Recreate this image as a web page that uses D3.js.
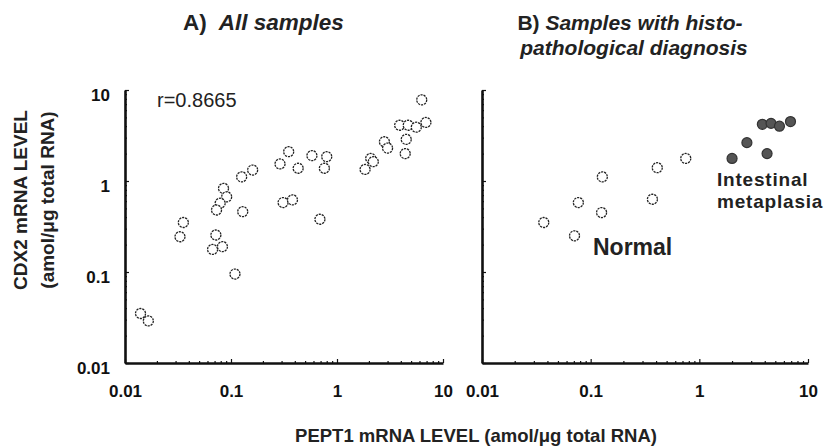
<!DOCTYPE html>
<html lang="en">
<head>
    <meta charset="UTF-8">
    <title>CDX2 vs PEPT1 mRNA</title>
    <style>
        body { margin: 0; background: #fff; }
        svg { display: block; font-family: "Liberation Sans", Arial, sans-serif; }
        .tick text { font-weight: bold; font-size: 17px; fill: #111; }
        .domain { stroke: #111; stroke-width: 2.6; }
        .tick line { stroke: #111; stroke-width: 1.2; }
        .open { fill: #fff; stroke: #222; stroke-width: 1.3; stroke-dasharray: 2.2,0.9; }
        .filled { fill: #555; stroke: #333; stroke-width: 1.2; }
        .lbl { font-weight: bold; fill: #222; }
    </style>
</head>
<body>
    <svg id="chart" width="826" height="448"></svg>

    <script src="https://d3js.org/d3.v7.min.js"></script>
    <script>
        // panel A: all samples (PEPT1, CDX2 in amol/ug total RNA)
        const allPept = [6.3, 3.9, 4.7, 5.6, 6.9, 4.5, 4.4, 2.8, 3.0, 2.08, 2.2, 1.84,
                         0.35, 0.29, 0.43, 0.58, 0.80, 0.76, 0.16, 0.126, 0.085, 0.091, 0.079, 0.073,
                         0.129, 0.31, 0.38, 0.69, 0.0355, 0.033, 0.072, 0.067, 0.083, 0.109, 0.014, 0.0166];
        const allCdx  = [7.8, 4.1, 4.1, 3.9, 4.4, 2.87, 2.0, 2.7, 2.3, 1.77, 1.63, 1.34,
                         2.1, 1.54, 1.38, 1.9, 1.85, 1.38, 1.32, 1.11, 0.83, 0.67, 0.57, 0.48,
                         0.46, 0.58, 0.62, 0.38, 0.35, 0.244, 0.255, 0.177, 0.19, 0.095, 0.035, 0.029];

        // panel B: samples with histopathological diagnosis
        const normalPept = [0.75, 0.41, 0.128, 0.37, 0.077, 0.126, 0.037, 0.071];
        const normalCdx  = [1.77, 1.4, 1.11, 0.63, 0.58, 0.45, 0.35, 0.25];
        const imPept = [2.0, 2.74, 4.2, 3.8, 4.57, 5.46, 6.9];
        const imCdx  = [1.77, 2.64, 2.0, 4.2, 4.3, 4.0, 4.5];

        const tickVals = [0.01, 0.1, 1, 10];
        const tickLabels = ["0.01", "0.1", "1", "10"];

        const svg = d3.select("#chart");

        // minor ticks 2..9 per decade
        const minor = [];
        [0.01, 0.1, 1].forEach(d => { for (let k = 2; k <= 9; k++) minor.push(d * k); });

        const y = d3.scaleLog().domain([0.01, 10]).range([363, 90]);
        const xA = d3.scaleLog().domain([0.01, 10]).range([125, 443]);
        const xB = d3.scaleLog().domain([0.01, 10]).range([482, 808]);

        function drawAxes(x, showYLabels) {
            const fmt = d => tickLabels[tickVals.indexOf(d)];
            // minor ticks
            svg.append("g").attr("transform", "translate(0,363)")
                .call(d3.axisBottom(x).tickValues(minor).tickSize(-2).tickFormat(""))
                .call(g => g.select(".domain").remove());
            svg.append("g").attr("transform", `translate(${x.range()[0]},0)`)
                .call(d3.axisLeft(y).tickValues(minor).tickSize(-2).tickFormat(""))
                .call(g => g.select(".domain").remove());
            // major ticks
            svg.append("g").attr("transform", "translate(0,363)")
                .call(d3.axisBottom(x).tickValues(tickVals).tickSize(-4).tickSizeOuter(0).tickPadding(22).tickFormat(fmt));
            svg.append("g").attr("transform", `translate(${x.range()[0]},0)`)
                .call(d3.axisLeft(y).tickValues(tickVals).tickSize(-4).tickSizeOuter(0).tickPadding(15)
                    .tickFormat(showYLabels ? fmt : ""))
                .call(g => g.selectAll(".tick text").attr("dy", "0.62em"));
        }

        drawAxes(xA, true);
        drawAxes(xB, false);

        // points, panel A
        svg.append("g").selectAll("circle")
            .data(allPept.map((p, i) => [p, allCdx[i]]))
            .join("circle")
            .attr("class", "open")
            .attr("cx", d => xA(d[0]))
            .attr("cy", d => y(d[1]))
            .attr("r", 5);

        // points, panel B
        svg.append("g").selectAll("circle")
            .data(normalPept.map((p, i) => [p, normalCdx[i]]))
            .join("circle")
            .attr("class", "open")
            .attr("cx", d => xB(d[0]))
            .attr("cy", d => y(d[1]))
            .attr("r", 5);
        svg.append("g").selectAll("circle")
            .data(imPept.map((p, i) => [p, imCdx[i]]))
            .join("circle")
            .attr("class", "filled")
            .attr("cx", d => xB(d[0]))
            .attr("cy", d => y(d[1]))
            .attr("r", 5);

        // panel titles
        const tA = svg.append("text").attr("class", "lbl").attr("font-size", 22.5).attr("x", 183).attr("y", 30);
        tA.append("tspan").text("A)");
        tA.append("tspan").attr("dx", 12).attr("font-style", "italic").text("All samples");

        const tB = svg.append("text").attr("class", "lbl").attr("font-size", 21)
            .attr("text-anchor", "middle").attr("x", 630).attr("y", 30);
        tB.append("tspan").text("B) ");
        tB.append("tspan").attr("font-style", "italic").text("Samples with histo-");
        svg.append("text").attr("class", "lbl").attr("font-size", 21).attr("text-anchor", "middle")
            .attr("x", 634).attr("y", 55).attr("font-style", "italic").text("pathological diagnosis");

        // annotations
        svg.append("text").attr("x", 157).attr("y", 107).attr("font-size", 20).attr("fill", "#222").text("r=0.8665");
        svg.append("text").attr("class", "lbl").attr("font-size", 19).attr("letter-spacing", 0.8)
            .attr("x", 717).attr("y", 186).text("Intestinal");
        svg.append("text").attr("class", "lbl").attr("font-size", 19).attr("letter-spacing", 0.8)
            .attr("x", 717).attr("y", 208).text("metaplasia");
        svg.append("text").attr("class", "lbl").attr("font-size", 23).attr("x", 593).attr("y", 255).text("Normal");

        // axis titles
        svg.append("text").attr("class", "lbl").attr("font-size", 19).attr("text-anchor", "middle")
            .attr("transform", "translate(27,200) rotate(-90)").text("CDX2 mRNA LEVEL");
        svg.append("text").attr("class", "lbl").attr("font-size", 19).attr("text-anchor", "middle")
            .attr("transform", "translate(54,200) rotate(-90)").text("(amol/\u03bcg total RNA)");
        svg.append("text").attr("class", "lbl").attr("text-anchor", "middle")
            .attr("x", 476).attr("y", 442).attr("font-size", 18.5).text("PEPT1 mRNA LEVEL  (amol/\u03bcg total RNA)");
    </script>
</body>
</html>
